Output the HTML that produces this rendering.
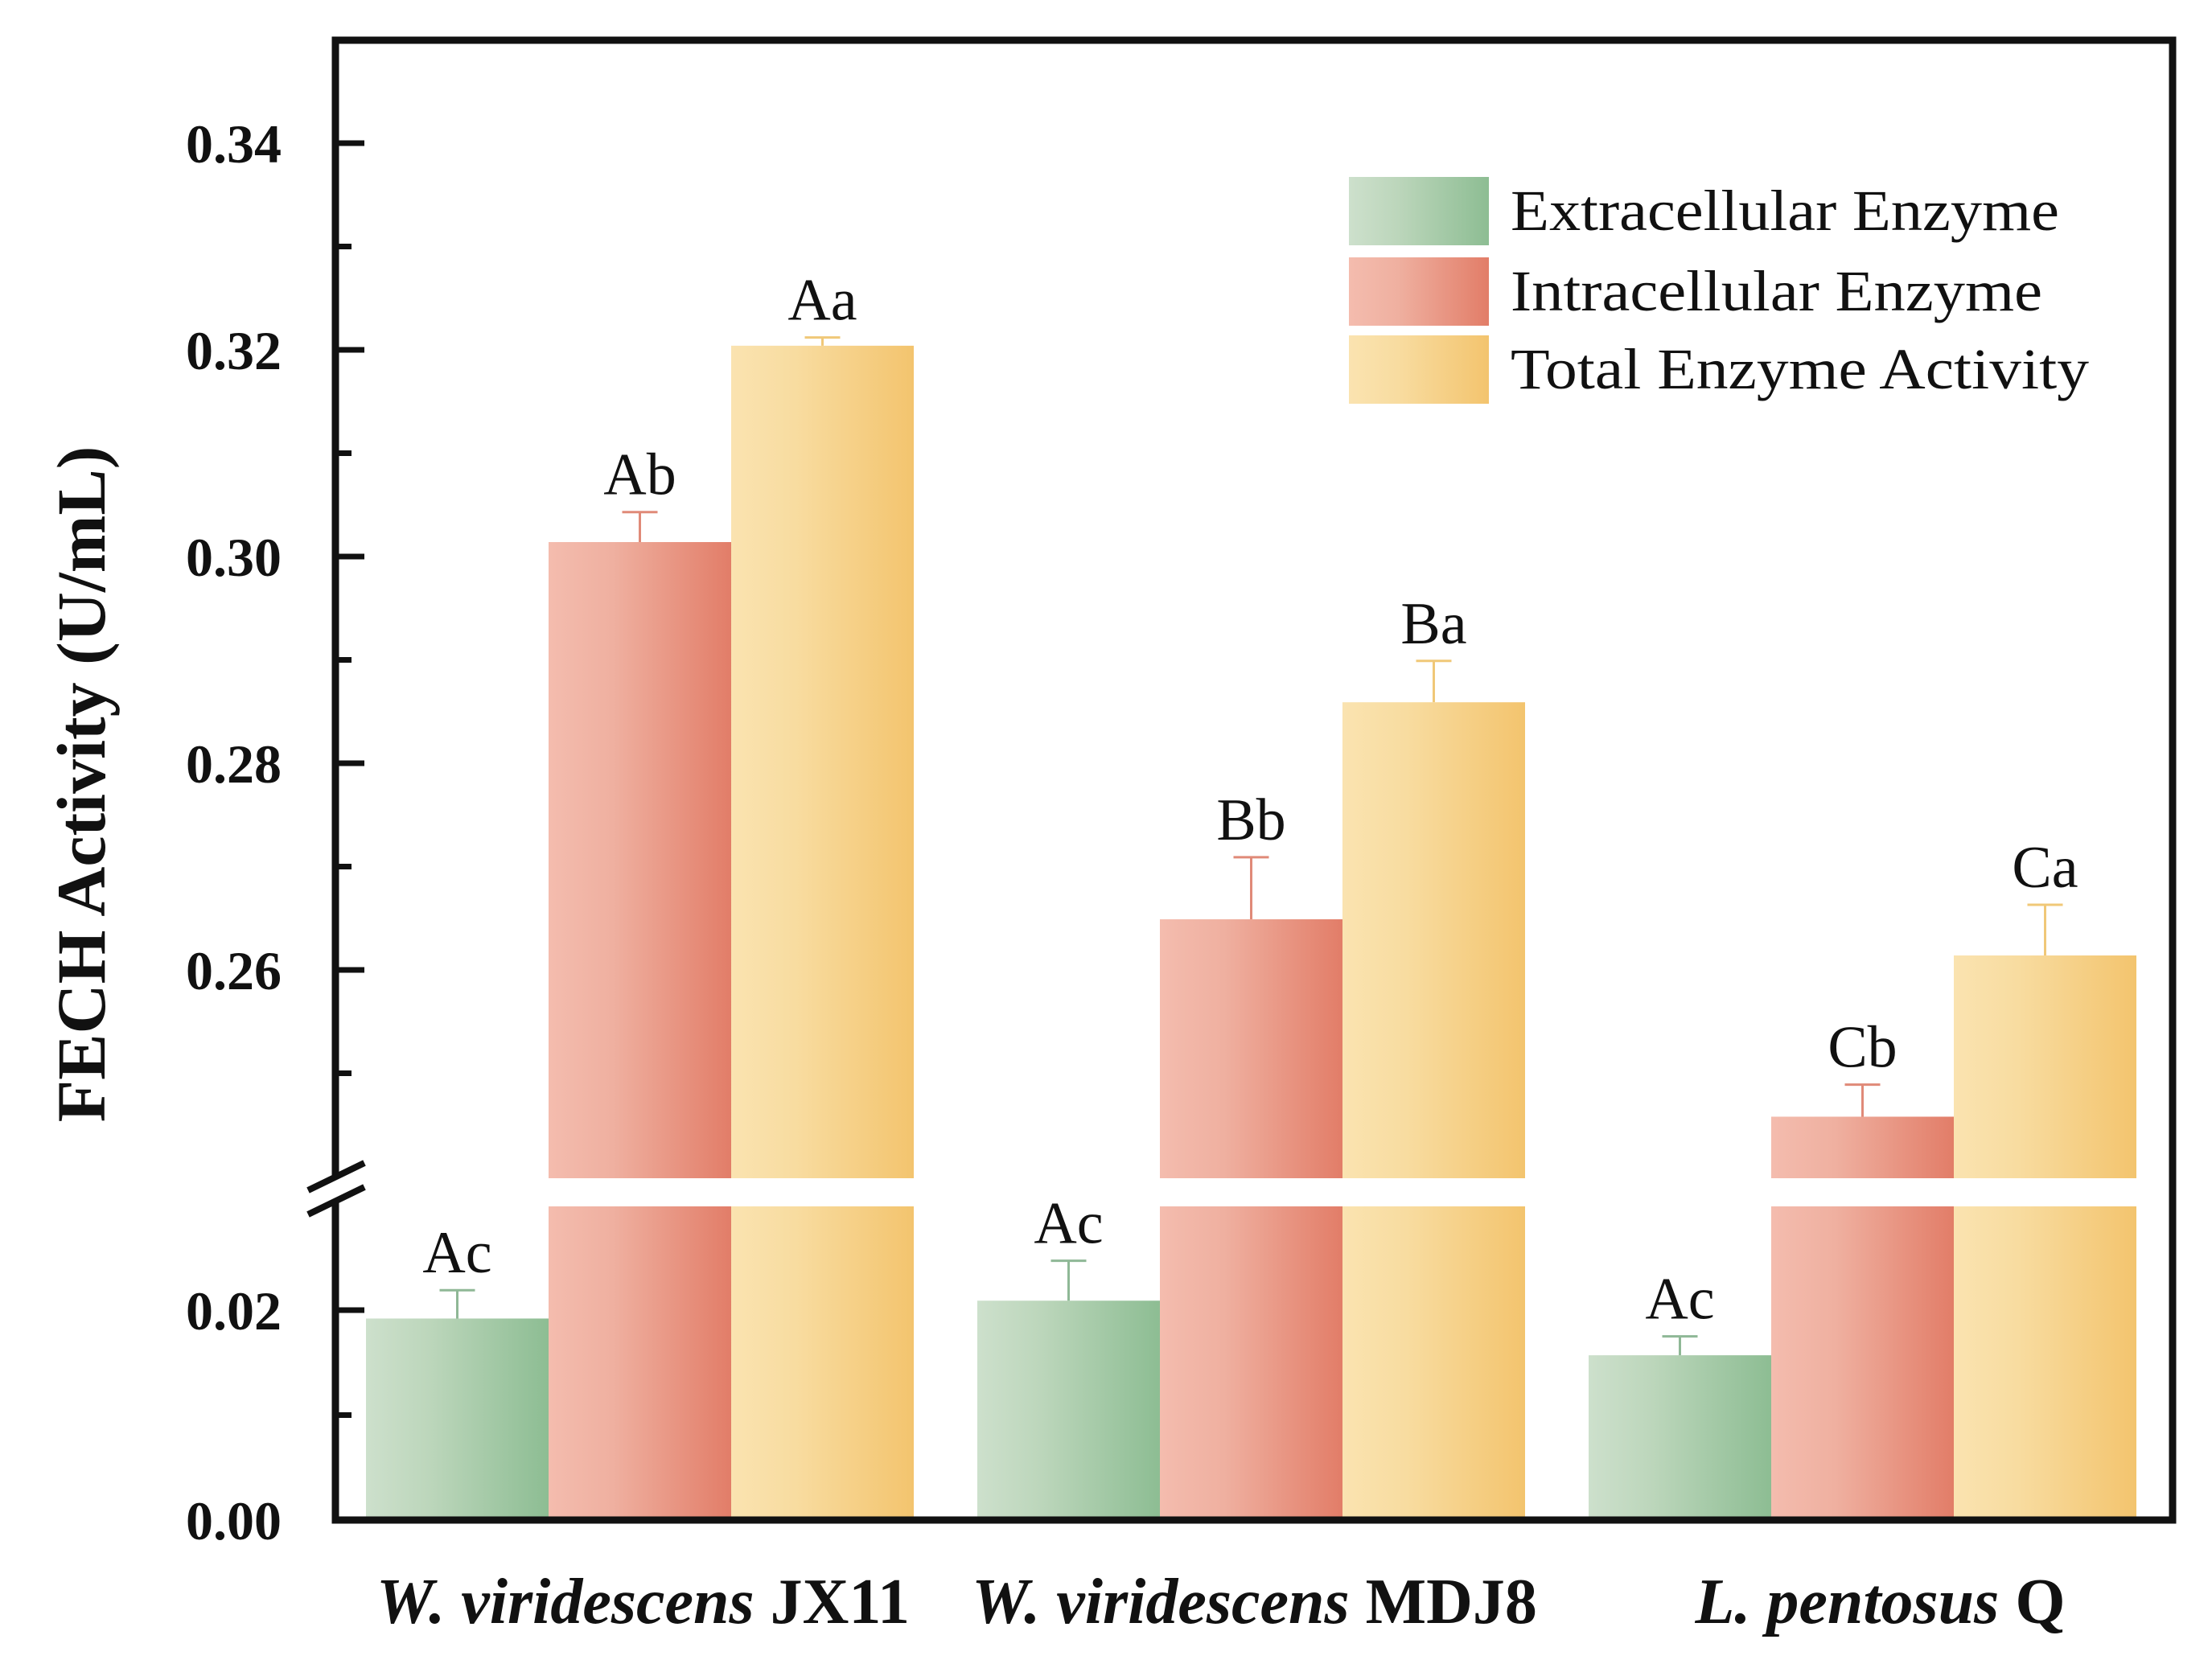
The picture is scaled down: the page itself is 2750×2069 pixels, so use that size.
<!DOCTYPE html>
<html><head><meta charset="utf-8"><style>
html,body{margin:0;padding:0;background:#fff}
svg{display:block}
text{font-family:"Liberation Serif",serif;fill:#111}
</style></head><body>
<svg id="chart" width="2750" height="2069" viewBox="0 0 2750 2069" xmlns="http://www.w3.org/2000/svg">
<defs>
<linearGradient id="gG" x1="0" x2="1" y1="0" y2="0"><stop offset="0" stop-color="#cde0cc"/><stop offset="0.35" stop-color="#bcd6bb"/><stop offset="1" stop-color="#8dbd93"/></linearGradient>
<linearGradient id="gR" x1="0" x2="1" y1="0" y2="0"><stop offset="0" stop-color="#f4bcae"/><stop offset="0.35" stop-color="#efb0a0"/><stop offset="1" stop-color="#e27d68"/></linearGradient>
<linearGradient id="gY" x1="0" x2="1" y1="0" y2="0"><stop offset="0" stop-color="#fae3b0"/><stop offset="0.35" stop-color="#f8dca0"/><stop offset="1" stop-color="#f3c46e"/></linearGradient>
</defs>
<g id="bars"></g>
<g id="axes"></g>
</svg>
<script>
const categories = ["W. viridescens JX11", "W. viridescens MDJ8", "L. pentosus Q"];
const seriesNames = ["Extracellular Enzyme", "Intracellular Enzyme", "Total Enzyme Activity"];
const extracellular = [0.0192, 0.0209, 0.0157];
const extracellularErr = [0.0027, 0.0038, 0.0018];
const intracellular = [0.3014, 0.2649, 0.2458];
const intracellularErr = [0.0029, 0.0060, 0.0031];
const totalActivity = [0.3204, 0.2859, 0.2614];
const totalActivityErr = [0.0008, 0.0040, 0.0049];
const extracellularLetters = ["Ac", "Ac", "Ac"];
const intracellularLetters = ["Ab", "Bb", "Cb"];
const totalLetters = ["Aa", "Ba", "Ca"];
const upperTicks = [0.26, 0.28, 0.30, 0.32, 0.34];
const upperTickLabels = ["0.26", "0.28", "0.30", "0.32", "0.34"];
const upperMinor = [0.25, 0.27, 0.29, 0.31, 0.33];
const lowerTicks = [0.00, 0.02];
const lowerTickLabels = ["0.00", "0.02"];
const lowerMinor = [0.01];

const NS = "http://www.w3.org/2000/svg";
const L = 417, R = 2701, T = 50, B = 1890;
const lowerTopY = 1500, upperBotY = 1465;
function yLow(v){ return B - v * 13050; }
function yUp(v){ return 178 + (0.34 - v) * 12850; }
const lowerMax = (B - lowerTopY) / 13050;
function groupX(i){ return 455 + i * 760; }
const barW = 227;
function mk(tag, attrs, parent){ const e = document.createElementNS(NS, tag); for (const k in attrs) e.setAttribute(k, attrs[k]); parent.appendChild(e); return e; }

const bars = document.getElementById('bars');
const axes = document.getElementById('axes');
const fills = ["url(#gG)", "url(#gR)", "url(#gY)"];
const errColors = ["#8fb896", "#e08a78", "#f0c878"];
const series = [extracellular, intracellular, totalActivity];
const errs = [extracellularErr, intracellularErr, totalActivityErr];
const letters = [extracellularLetters, intracellularLetters, totalLetters];

for (let s = 0; s < 3; s++) {
  for (let i = 0; i < categories.length; i++) {
    const v = series[s][i], e = errs[s][i];
    const x = groupX(i) + s * barW;
    let topY;
    if (v <= lowerMax) {
      topY = yLow(v);
      const r = mk('rect', {x: x, y: topY, width: barW, height: B - topY, fill: fills[s]}, bars);
      
      
    } else {
      const r1 = mk('rect', {x: x, y: lowerTopY, width: barW, height: B - lowerTopY, fill: fills[s]}, bars);
      
      
      topY = yUp(v);
      const r2 = mk('rect', {x: x, y: topY, width: barW, height: upperBotY - topY, fill: fills[s]}, bars);
      
      
    }
    const eTop = v <= lowerMax ? yLow(v + e) : yUp(v + e);
    const cx = x + barW / 2;
    const eb = mk('path', {d: 'M' + cx + ' ' + topY + 'V' + eTop + 'M' + (cx - 22) + ' ' + eTop + 'H' + (cx + 22), stroke: errColors[s], 'stroke-width': 3, fill: 'none'}, bars);
    
    
    const t = mk('text', {x: cx, y: eTop - 22, 'text-anchor': 'middle', 'font-size': 74}, bars);
    t.textContent = letters[s][i];
    
    
  }
}

const fr = mk('path', {d: 'M' + L + ' 1462V' + T + 'H' + R + 'V' + B + 'H' + L + 'V1492', stroke: '#111', 'stroke-width': 9, fill: 'none'}, axes);


const br = mk('path', {d: 'M383 1480L453 1446M383 1510L453 1476', stroke: '#111', 'stroke-width': 8, fill: 'none'}, axes);



function tick(y, len){ const p = mk('path', {d: 'M' + L + ' ' + y + 'H' + (L + len), stroke: '#111', 'stroke-width': 7}, axes);
    }
function tlabel(y, s){ const t = mk('text', {x: 350, y: y + 24, 'text-anchor': 'end', 'font-size': 68, 'font-weight': 'bold'}, axes);
  t.textContent = s;   }
upperTicks.forEach((v, k) => { tick(yUp(v), 36); tlabel(yUp(v), upperTickLabels[k]); });
upperMinor.forEach(v => tick(yUp(v), 20));
lowerTicks.forEach((v, k) => { tick(yLow(v), 36); tlabel(yLow(v), lowerTickLabels[k]); });
lowerMinor.forEach(v => tick(yLow(v), 20));

const yt = mk('text', {x: 0, y: 0, transform: 'translate(130 975) rotate(-90)', 'text-anchor': 'middle', 'font-size': 86, 'font-weight': 'bold'}, axes);
yt.textContent = 'FECH Activity (U/mL)';



const catParts = [["W. viridescens", " JX11"], ["W. viridescens", " MDJ8"], ["L. pentosus", " Q"]];
const catShift = [4, 4, 22];
for (let i = 0; i < categories.length; i++) {
  const t = mk('text', {x: groupX(i) + barW * 1.5 + catShift[i], y: 2018, 'text-anchor': 'middle', 'font-size': 80, 'font-weight': 'bold'}, axes);
  
  
  const a = mk('tspan', {'font-style': 'italic'}, t); a.textContent = catParts[i][0];
  const b = mk('tspan', {}, t); b.textContent = catParts[i][1];
}

const legY = [220, 320, 417];
const legW = [682, 661, 719];
for (let s = 0; s < 3; s++) {
  const g = mk('g', {}, axes);
  
  
  mk('rect', {x: 1677, y: legY[s], width: 174, height: 85, fill: fills[s]}, g);
  const t = mk('text', {x: 1878, y: legY[s] + 66, 'font-size': 72, textLength: legW[s], lengthAdjust: 'spacingAndGlyphs'}, g);
  t.textContent = seriesNames[s];
}
</script>
</body></html>
